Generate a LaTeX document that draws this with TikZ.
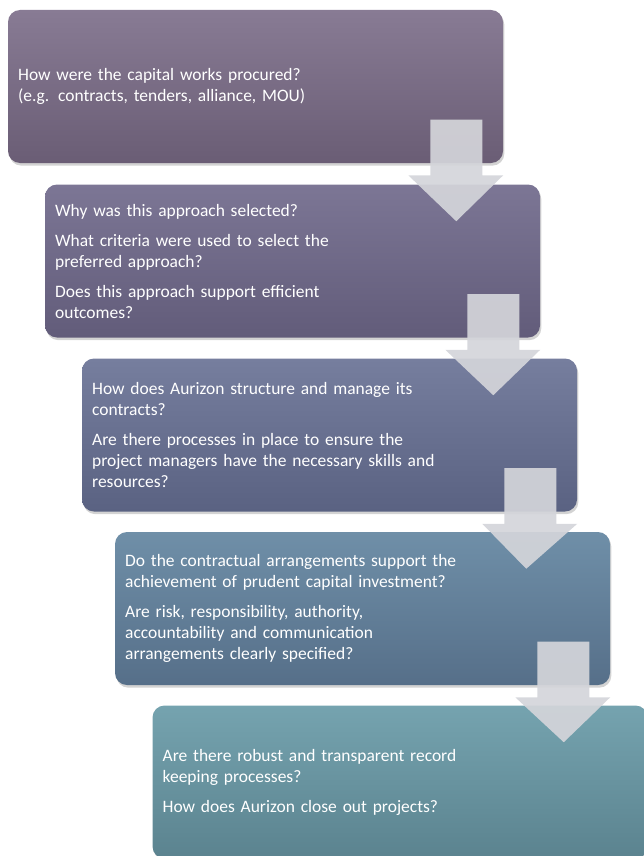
\documentclass[tikz,border=0pt]{standalone}
\usepackage{fontspec}
\setmainfont{Carlito}
\usetikzlibrary{calc,shadows}
\definecolor{purpletop}{HTML}{887B94}
\definecolor{purplebot}{HTML}{6A5D75}
\definecolor{violettop}{HTML}{7C7695}
\definecolor{violetbot}{HTML}{625C7A}
\definecolor{slatetop}{HTML}{767E9E}
\definecolor{slatebot}{HTML}{5A6282}
\definecolor{steeltop}{HTML}{6F8FA8}
\definecolor{steelbot}{HTML}{566F89}
\definecolor{tealtop}{HTML}{75A3AF}
\definecolor{tealbot}{HTML}{5B838F}
\definecolor{arrowgray}{HTML}{D4D5DA}
\tikzset{%
  % question boxes and the block arrows between them
            qbox/.style = {rectangle, rounded corners=9pt,
                           minimum width=371.25pt, minimum height=114.75pt,
                           text width=356pt, inner xsep=7.5pt, align=left,
                           text=white, font=\fontsize{13.1}{15.75}\selectfont,
                           drop shadow={opacity=0.35, shadow xshift=1pt, shadow yshift=-2pt}},
       flowarrow/.style = {fill=arrowgray, fill opacity=0.92}
                           }

\begin{document}
\begin{tikzpicture}[x=0.75pt, y=-0.75pt]
  \useasboundingbox (0,0) rectangle (643,856);

  \node (procure)  [qbox, top color=purpletop, bottom color=purplebot] at (255.5,86.5)
        {How were the capital works procured?\\
         (e.g. contracts, tenders, alliance, MOU)};
  \node (approach) [qbox, top color=violettop, bottom color=violetbot] at (292.5,261)
        {Why was this approach selected?\\[6.75pt]
         What criteria were used to select the\\ preferred approach?\\[6.75pt]
         Does this approach support efficient\\ outcomes?};
  \node (contract) [qbox, top color=slatetop, bottom color=slatebot] at (329.5,435)
        {How does Aurizon structure and manage its\\ contracts?\\[6.75pt]
         Are there processes in place to ensure the\\
         project managers have the necessary skills and\\ resources?};
  \node (arrange)  [qbox, top color=steeltop, bottom color=steelbot] at (362.5,608.5)
        {Do the contractual arrangements support the\\
         achievement of prudent capital investment?\\[6.75pt]
         Are risk, responsibility, authority,\\ accountability and communication\\
         arrangements clearly specified?};
  \node (record)   [qbox, top color=tealtop, bottom color=tealbot] at (400,782)
        {Are there robust and transparent record\\ keeping processes?\\[6.75pt]
         How does Aurizon close out projects?};

  \foreach \a/\b in {procure/approach, approach/contract, contract/arrange, arrange/record}
    \fill[flowarrow] ($(\a.north east)+(-73,110)$) -- ($(\a.north east)+(-21,110)$)
                  -- ($(\a.south east)+(-21,12)$)  -- ($(\a.south east)+(0,12)$)
                  -- ($(\b.north east)+(-84,37)$)
                  -- ($(\a.south east)+(-95,12)$) -- ($(\a.south east)+(-73,12)$) -- cycle;
\end{tikzpicture}
\end{document}
